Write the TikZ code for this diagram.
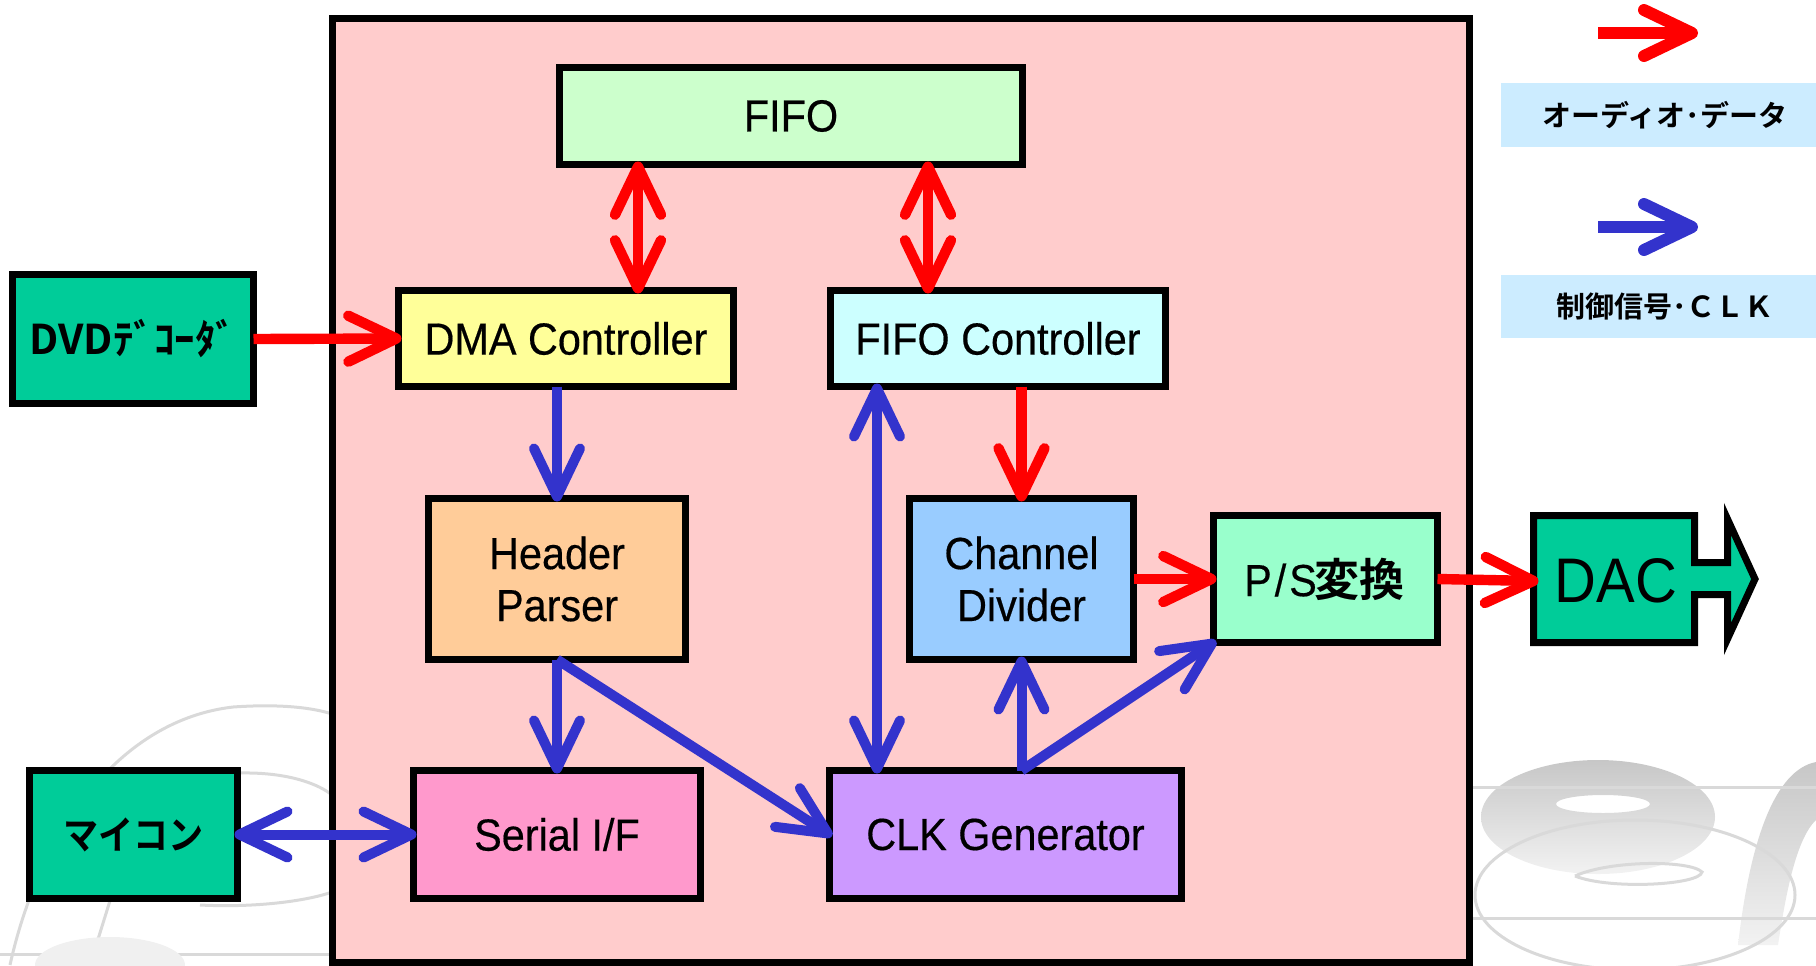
\documentclass[tikz,border=0pt]{standalone}
\usepackage{fontspec}
\usepackage{graphicx}
\setmainfont{Liberation Sans}[FakeStretch=0.92, FakeBold=0.4]
\newfontfamily\plainsans{Liberation Sans}[FakeStretch=0.92]
\newfontfamily\jpfont{Noto Sans CJK JP}[UprightFont=* Bold]
\usetikzlibrary{arrows.meta}

\definecolor{chipbg}{HTML}{FFCCCC}
\definecolor{fifobg}{HTML}{CCFFCC}
\definecolor{dmabg}{HTML}{FFFF99}
\definecolor{fcbg}{HTML}{CCFFFF}
\definecolor{hpbg}{HTML}{FFCC99}
\definecolor{cdbg}{HTML}{99CCFF}
\definecolor{psbg}{HTML}{99FFCC}
\definecolor{extbg}{HTML}{00CC99}
\definecolor{sibg}{HTML}{FF99CC}
\definecolor{clkbg}{HTML}{CC99FF}
\definecolor{audio}{HTML}{FF0000}
\definecolor{ctrl}{HTML}{3333CC}
\definecolor{legbg}{HTML}{CCECFF}

\tikzset{
  chev/.tip={Straight Barb[length=24pt,width=23pt,round]},
  block/.style={draw=black, line width=3.5pt, inner sep=0pt, outer sep=0pt,
    font=\fontsize{22.5}{26}\selectfont, align=center},
  dataflow/.style={draw=audio, line width=5.2pt, shorten >=-1.5pt, -chev},
  ctlflow/.style={draw=ctrl, line width=5pt, shorten >=-1.5pt, -chev},
  twoway/.style={chev-chev, shorten <=-1.5pt},
  legbox/.style={fill=legbg, inner sep=0pt, outer sep=0pt,
    font=\jpfont\fontsize{14.5}{14.5}\selectfont},
  wmline/.style={draw=black!15, line width=1.5pt},
  wmfill/.style={top color=black!22, bottom color=black!5, draw=none},
}

\begin{document}
\begin{tikzpicture}[x=0.5pt,y=-0.5pt]
\useasboundingbox (0,0) rectangle (1816,965);

% faint logo in the lower corners
\draw[wmline] (10,965) .. controls (40,830) and (120,720) .. (233,707)
  .. controls (290,703) and (320,710) .. (332,714);
\draw[wmline] (240,773) .. controls (290,772) and (320,785) .. (332,795);
\draw[wmline] (200,905) .. controls (260,908) and (310,900) .. (332,892);
\draw[wmline] (0,954) -- (332,954);
\draw[wmline] (90,965) -- (118,875);
\fill[black!6] (110,965) ellipse [x radius=75, y radius=28];

\path[wmfill, even odd rule] (1598,817) ellipse [x radius=117, y radius=57]
  (1603,804) ellipse [x radius=47, y radius=9];
\path[wmfill] (1738,945) .. controls (1750,840) and (1775,770) .. (1816,762)
  -- (1816,820) .. controls (1795,840) and (1785,900) .. (1778,945) -- cycle;
\draw[wmline] (1473,787) -- (1816,787);
\draw[wmline] (1473,918) -- (1816,918);
\draw[wmline] (1635,895) ellipse [x radius=160, y radius=75];
\draw[wmline] (1575,876) .. controls (1610,860) and (1690,860) .. (1702,872)
  .. controls (1700,885) and (1610,890) .. (1575,876);

% chip outline
\draw[fill=chipbg, line width=3.5pt] (332.5,18.5) rectangle (1469.5,962);

% blocks
\node[block, fill=fifobg, minimum width=231.5pt, minimum height=48.5pt] (FIFO) at (791,116) {FIFO};
\node[block, fill=dmabg, minimum width=167.5pt, minimum height=48pt] (DMA) at (566,338.5) {DMA Controller};
\node[block, fill=fcbg, minimum width=167.5pt, minimum height=48pt] (FIFOC) at (998,338.5) {FIFO Controller};
\node[block, fill=hpbg, minimum width=128.5pt, minimum height=80.5pt] (HP) at (557,579) {Header\\Parser};
\node[block, fill=cdbg, minimum width=112pt, minimum height=80.5pt] (CD) at (1021.5,579) {Channel\\Divider};
\node[block, fill=psbg, minimum width=112pt, minimum height=63.5pt] (PS) at (1325.5,579)
  {\makebox[0.5em]{P}\makebox[0.5em]{/}\makebox[0.5em]{S}{\jpfont 変換}};
\node[block, fill=sibg, minimum width=143.5pt, minimum height=64pt] (SIF) at (557,834.5) {Serial I/F};
\node[block, fill=clkbg, minimum width=176pt, minimum height=64pt] (CLK) at (1005.5,834.5) {CLK Generator};
\node[block, fill=extbg, minimum width=120.5pt, minimum height=64.5pt, font=\jpfont\fontsize{20.5}{20.5}\selectfont] (DVD) at (133,339) {DVDﾃﾞｺｰﾀﾞ};
\node[block, fill=extbg, minimum width=104pt, minimum height=64pt, font=\jpfont\fontsize{19.5}{19.5}\selectfont] (MCU) at (133.5,834.5) {\scalebox{0.9}[1]{マイコン}};

% DAC with its output arrow
\draw[fill=extbg, line width=3.5pt, line join=miter]
  (1533.5,515.5) -- (1694.5,515.5) -- (1694.5,562.5) -- (1727.5,562.5)
  -- (1727.5,519) -- (1755,579) -- (1727.5,639) -- (1727.5,594.5)
  -- (1694.5,594.5) -- (1694.5,642.5) -- (1533.5,642.5) -- cycle;
\node[inner sep=0pt, outer sep=0pt, minimum width=80.5pt, minimum height=63.5pt,
  font=\plainsans\fontsize{31.5}{31.5}\selectfont] (DAC) at (1616,581) {DAC};

% audio data paths
\draw[dataflow] (DVD.east) -- (DMA.west);
\draw[dataflow, twoway] ([xshift=36pt]DMA.north |- FIFO.south) -- ([xshift=36pt]DMA.north);
\draw[dataflow, twoway] ([xshift=-35pt]FIFOC.north |- FIFO.south) -- ([xshift=-35pt]FIFOC.north);
\draw[dataflow] (CD.north |- FIFOC.south) -- (CD.north);
\draw[dataflow] (CD.east) -- (PS.west);
\draw[dataflow] (PS.east) -- (DAC.west);

% control and clock paths
\draw[ctlflow] (HP.north |- DMA.south) -- (HP.north);
\draw[ctlflow] (HP.south) -- (SIF.north);
\draw[ctlflow] (HP.south) -- (CLK.west);
\draw[ctlflow, twoway] ([xshift=-60.5pt]FIFOC.south) -- ([xshift=-60.5pt]FIFOC.south |- CLK.north);
\draw[ctlflow, twoway] (MCU.east) -- (SIF.west);
\draw[ctlflow] (CD.south |- CLK.north) -- (CD.south);
\draw[ctlflow] (CD.south |- CLK.north) -- (PS.south west);

% legend
\coordinate (ra0) at (1598,33);
\coordinate (ra1) at (1695,33);
\coordinate (ba0) at (1598,227);
\coordinate (ba1) at (1695,227);
\draw[dataflow, line width=6pt] (ra0) -- (ra1);
\draw[ctlflow, line width=6pt] (ba0) -- (ba1);
\node[legbox, minimum width=164.5pt, minimum height=32pt] (legA) at (1665,115) {オーディオ･データ};
\node[legbox, minimum width=164.5pt, minimum height=31.5pt] (legB) at (1665,306.5) {制御信号･ＣＬＫ};
\end{tikzpicture}
\end{document}
